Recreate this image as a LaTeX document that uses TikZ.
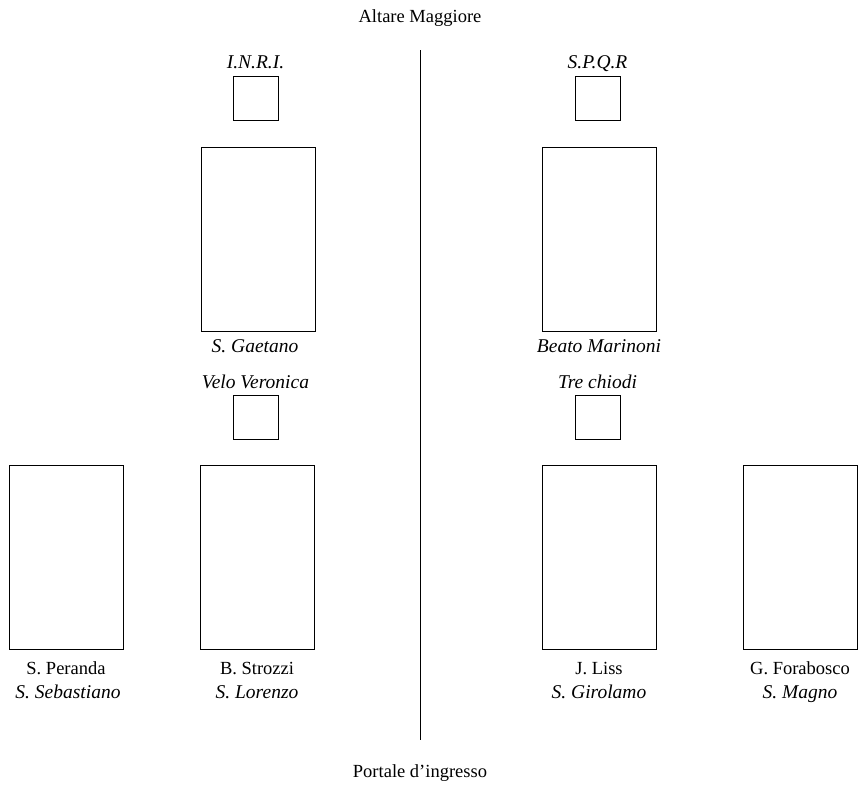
\documentclass[tikz,border=0pt]{standalone}
\usepackage{fontspec}
\setmainfont{Liberation Serif}
\begin{document}
\begin{tikzpicture}[x=1pt,y=-1pt,
  frame/.style={draw, line width=0.9pt, inner sep=0pt, outer sep=0pt, anchor=north west},
  big/.style={frame, minimum width=114pt, minimum height=184pt},
  small/.style={frame, minimum width=45pt, minimum height=44pt},
  lab/.style={font=\fontsize{18.5}{24}\selectfont, inner sep=0pt, align=center, anchor=base},
  ilab/.style={lab, font=\fontsize{19.5}{24}\selectfont\itshape}]
\useasboundingbox (0,0) rectangle (859,785);
\node[lab] (altar) at (420,22.5) {Altare Maggiore};
\node[lab] (portal) at (420,777.5) {Portale d'ingresso};
\coordinate (ltop) at (420,50);
\coordinate (lbot) at (420,740);
\draw[line width=0.9pt] (ltop) -- (lbot);
% top small boxes
\node[small] (inri) at (233,76) {};
\node[ilab] (inriL) at (255.5,68.5) {I.N.R.I.};
\node[small] (spqr) at (575,76) {};
\node[ilab] (spqrL) at (597.5,68.5) {S.P.Q.R};
% big upper
\node[big] (gaet) at (201,147) {};
\node[ilab] (gaetL) at (255,352) {S. Gaetano};
\node[big] (mari) at (542,147) {};
\node[ilab] (mariL) at (599,352) {Beato Marinoni};
% middle small
\node[ilab] (veloL) at (255.5,388) {Velo Veronica};
\node[small] (velo) at (233,395) {};
\node[ilab] (treL) at (597.5,388) {Tre chiodi};
\node[small] (tre) at (575,395) {};
% bottom big
\node[big] (pera) at (9,465) {};
\node[big] (stro) at (200,465) {};
\node[big] (liss) at (542,465) {};
\node[big] (fora) at (743,465) {};
\node[lab] (peraA) at (66,674) {S. Peranda};
\node[ilab] (peraB) at (68,698) {S. Sebastiano};
\node[lab] (stroA) at (257,674) {B. Strozzi};
\node[ilab] (stroB) at (257,698) {S. Lorenzo};
\node[lab] (lissA) at (599,674) {J. Liss};
\node[ilab] (lissB) at (599,698) {S. Girolamo};
\node[lab] (foraA) at (800,674) {G. Forabosco};
\node[ilab] (foraB) at (800,698) {S. Magno};
\end{tikzpicture}
\end{document}
